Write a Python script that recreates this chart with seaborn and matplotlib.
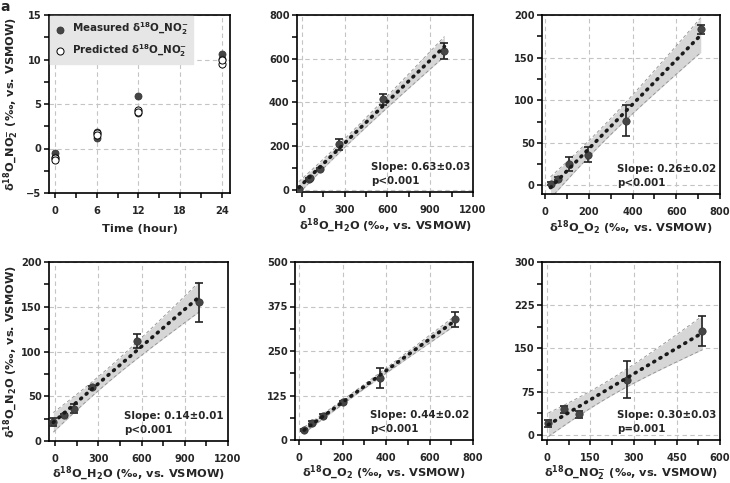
import numpy as np
import matplotlib
matplotlib.use("Agg")
import matplotlib.pyplot as plt
import seaborn as sns
from matplotlib.ticker import MultipleLocator

# ---- data ----
# panel a: time course (two replicates per time point)
time_h = [0, 0, 6, 6, 12, 12, 24, 24]
measured_no2 = [-0.45, -0.9, 1.9, 1.2, 5.85, 4.0, 10.6, 10.05]
predicted_no2 = [-1.1, -1.25, 1.7, 1.5, 4.3, 4.1, 9.55, 9.9]

# panel b: d18O-NO2- vs d18O-H2O
b_x = [-20, 50, 60, 130, 260, 570, 1000]
b_y = [5, 50, 52, 95, 208, 415, 635]
b_err = [4, 4, 4, 6, 24, 25, 35]

# panel c: d18O-NO2- vs d18O-O2
c_x = [25, 60, 110, 198, 370, 712]
c_y = [2, 8, 25, 36, 76, 183]
c_err = [2, 2, 8, 9, 18, 5]

# panel d: d18O-N2O vs d18O-H2O
d_x = [-12, 62, 130, 258, 566, 1000]
d_y = [21, 28.5, 36, 60, 112, 155]
d_err = [4.7, 2, 5, 2, 8, 21.5]

# panel e: d18O-N2O vs d18O-O2
e_x = [22, 60, 110, 199, 371, 716]
e_y = [29, 48, 67, 106, 173, 339]
e_err = [3, 4, 5, 4, 28, 21]

# panel f: d18O-N2O vs d18O-NO2-
f_x = [4, 58, 111, 276, 539]
f_y = [20, 44, 36, 96, 180]
f_err = [6, 6, 6, 32, 26.5]

slope_text = ["Slope: 0.63\u00b10.03\np<0.001", "Slope: 0.26\u00b10.02\np<0.001",
              "Slope: 0.14\u00b10.01\np<0.001", "Slope: 0.44\u00b10.02\np<0.001",
              "Slope: 0.30\u00b10.03\np=0.001"]

# two-sided 95% t critical values by degrees of freedom
T95 = {3: 3.182, 4: 2.776, 5: 2.571}

sns.set_style("ticks")
plt.rcParams['font.family'] = ['DejaVu Sans']
plt.rcParams['font.weight'] = 'bold'
plt.rcParams['axes.labelweight'] = 'bold'
plt.rcParams['mathtext.fontset'] = 'custom'
plt.rcParams['mathtext.rm'] = 'DejaVu Sans:bold'
plt.rcParams['mathtext.it'] = 'DejaVu Sans:bold'
plt.rcParams['mathtext.bf'] = 'DejaVu Sans:bold'
plt.rcParams['mathtext.sf'] = 'DejaVu Sans:bold'

lab_no2 = "\u03b4$^{18}$O_NO$_2^{-}$ (\u2030, vs. VSMOW)"
lab_h2o = "\u03b4$^{18}$O_H$_2$O (\u2030, vs. VSMOW)"
lab_o2 = "\u03b4$^{18}$O_O$_2$ (\u2030, vs. VSMOW)"
lab_n2o = "\u03b4$^{18}$O_N$_2$O (\u2030, vs. VSMOW)"

TICK_FS = 7.1
LAB_FS = 8.2
TXT_FS = 7.4

fig = plt.figure(figsize=(7.3, 4.83), dpi=100)
W, H = 730, 483


def add_ax(l, t, r, b):
    return fig.add_axes([l / W, 1 - b / H, (r - l) / W, (b - t) / H])


def style_ax(ax, xmaj, ymaj, xlim, ylim):
    ax.set_xlim(*xlim)
    ax.set_ylim(*ylim)
    ax.xaxis.set_major_locator(MultipleLocator(xmaj))
    ax.xaxis.set_minor_locator(MultipleLocator(xmaj / 2))
    ax.yaxis.set_major_locator(MultipleLocator(ymaj))
    ax.yaxis.set_minor_locator(MultipleLocator(ymaj / 2))
    ax.tick_params(which='both', direction='out', length=3.8, width=1.1, color='black',
                   labelsize=TICK_FS)
    ax.tick_params(axis='x', which='both', pad=5.5)
    ax.tick_params(axis='y', which='both', pad=1.5)
    ax.tick_params(top=False, right=False)
    for lab in ax.get_xticklabels() + ax.get_yticklabels():
        lab.set_fontweight('bold')
    for sp in ax.spines.values():
        sp.set_visible(True)
        sp.set_color('black')
        sp.set_linewidth(1.2)
    ax.grid(True, which='major', color='#c4c4c4', linestyle=(0, (4, 3)), linewidth=0.8)
    ax.set_axisbelow(True)


def set_labels(ax, xlabel, ylabel=None, ylab_x=-0.2, xlab_y=-0.19):
    ax.set_xlabel(xlabel, fontsize=LAB_FS, fontweight='bold')
    ax.xaxis.set_label_coords(0.5, xlab_y)
    ax.xaxis.label.set_va('center')
    if ylabel:
        ax.set_ylabel(ylabel, fontsize=LAB_FS, fontweight='bold')
        ax.yaxis.set_label_coords(ylab_x, 0.5)
        ax.yaxis.label.set_va('center')


def fit_panel(ax, x, y, err, txt, xlabel, ylabel=None, xlab_y=-0.19):
    x = np.asarray(x, float)
    y = np.asarray(y, float)
    n = len(x)
    slope, icpt = np.polyfit(x, y, 1)
    resid = y - (slope * x + icpt)
    s = np.sqrt(np.sum(resid ** 2) / (n - 2))
    xs = np.linspace(x.min(), x.max(), 100)
    sxx = np.sum((x - x.mean()) ** 2)
    half = T95[n - 2] * s * np.sqrt(1 / n + (xs - x.mean()) ** 2 / sxx)
    yfit = slope * xs + icpt
    ax.fill_between(xs, yfit - half, yfit + half, color='#d6d6d6', lw=0, zorder=2)
    ax.plot(xs, yfit - half, color='#8f8f8f', lw=0.6, ls=(0, (4, 3)), zorder=2)
    ax.plot(xs, yfit + half, color='#8f8f8f', lw=0.6, ls=(0, (4, 3)), zorder=2)
    ax.errorbar(x, y, yerr=err, fmt='none', ecolor='#222222', elinewidth=1.2,
                capsize=3, capthick=1.2, zorder=3)
    sns.scatterplot(x=x, y=y, ax=ax, color='#454545', s=28, edgecolor='#333333',
                    linewidth=0.5, zorder=4, legend=False)
    ax.plot(xs, yfit, color='#1a1a1a', lw=2.6, ls=(0, (0.3, 1.7)),
            dash_capstyle='round', zorder=5)
    ax.text(0.42, 0.10, txt, transform=ax.transAxes, fontsize=TXT_FS, fontweight='bold',
            ha='left', va='center', linespacing=1.45, zorder=6)
    set_labels(ax, xlabel, ylabel, -0.215, xlab_y)


# panel a
ax_a = add_ax(49, 15, 230, 193)
style_ax(ax_a, 6, 5, (-0.9, 25.2), (-5, 15))
ax_a.xaxis.set_minor_locator(MultipleLocator(3))
sns.scatterplot(x=time_h, y=measured_no2, ax=ax_a, color='#454545', s=26,
                edgecolor='#333333', linewidth=0.5, zorder=4,
                label="Measured \u03b4$^{18}$O_NO$_2^{-}$")
sns.scatterplot(x=time_h, y=predicted_no2, ax=ax_a, color='white', s=26,
                edgecolor='black', linewidth=0.7, zorder=4,
                label="Predicted \u03b4$^{18}$O_NO$_2^{-}$")
leg = ax_a.legend(loc='upper left', frameon=True, fancybox=False, borderaxespad=0.1,
                  facecolor='#e6e6e6', edgecolor='#e6e6e6', framealpha=1,
                  prop={'weight': 'bold', 'size': 7.4}, handlelength=1.0,
                  handletextpad=0.7, borderpad=0.45, labelspacing=0.45)
set_labels(ax_a, "Time (hour)", lab_no2, -0.21, -0.2)

# panel b
ax_b = add_ax(297, 15, 473, 192)
style_ax(ax_b, 300, 200, (-33, 1200), (-10, 800))
fit_panel(ax_b, b_x, b_y, b_err, slope_text[0], lab_h2o)

# panel c
ax_c = add_ax(542, 15, 720, 194)
style_ax(ax_c, 200, 50, (-14, 800), (-10, 200))
fit_panel(ax_c, c_x, c_y, c_err, slope_text[1], lab_o2)

# panel d
ax_d = add_ax(49, 262, 228, 441)
style_ax(ax_d, 300, 50, (-42, 1200), (0, 200))
fit_panel(ax_d, d_x, d_y, d_err, slope_text[2], lab_h2o, lab_n2o, -0.185)

# panel e
ax_e = add_ax(295, 262, 473, 440)
style_ax(ax_e, 200, 125, (-20, 800), (0, 500))
fit_panel(ax_e, e_x, e_y, e_err, slope_text[3], lab_o2, None, -0.185)

# panel f
ax_f = add_ax(542, 262, 720, 440)
style_ax(ax_f, 150, 75, (-18, 600), (-9, 300))
fit_panel(ax_f, f_x, f_y, f_err, slope_text[4], lab_no2, None, -0.185)

fig.text(0.001, 0.999, "a", fontsize=10, fontweight='bold', ha='left', va='top')

fig.savefig("out.png", dpi=100)
